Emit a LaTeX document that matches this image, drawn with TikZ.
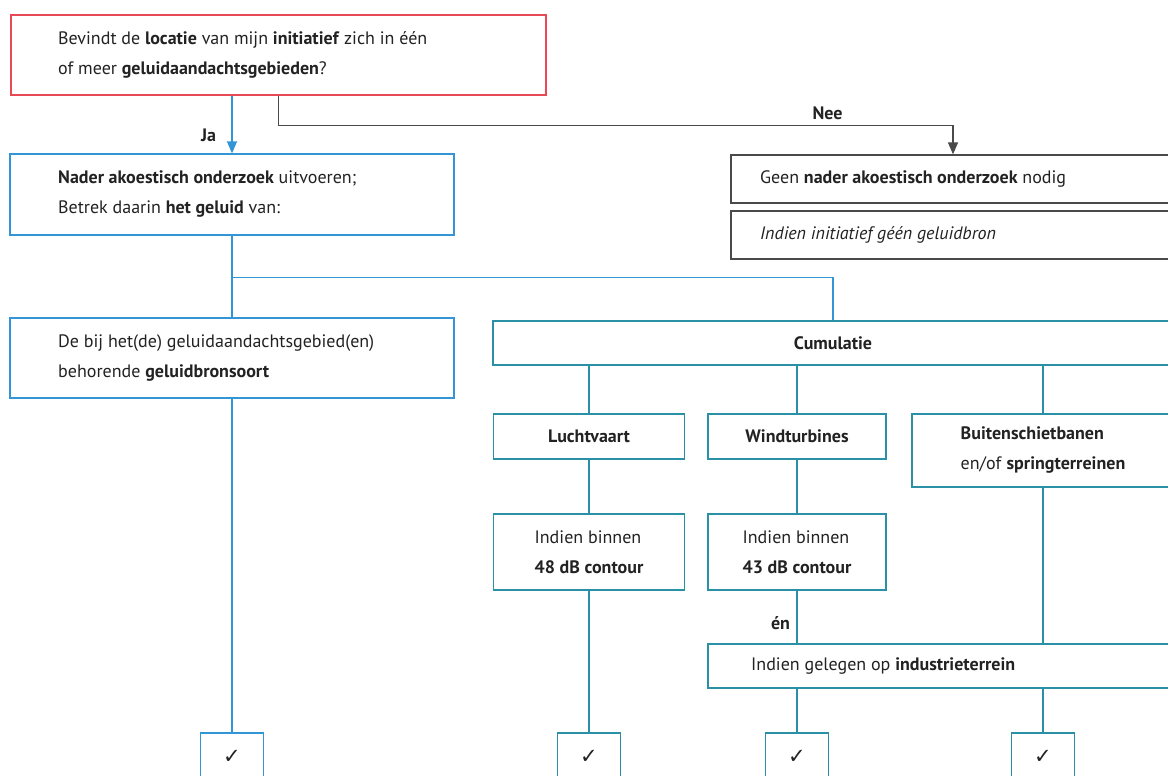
\documentclass[tikz,border=0pt]{standalone}
\usepackage{fontspec}
\setmainfont{PT Sans}
\newfontfamily\vinkfont{DejaVu Sans}
\usetikzlibrary{arrows.meta,calc}
\definecolor{rood}{HTML}{E84A55}
\definecolor{blauw}{HTML}{3296D6}
\definecolor{petrol}{HTML}{2A90A5}
\definecolor{grijs}{HTML}{4A4A4A}
\definecolor{inkt}{HTML}{222222}
\tikzset{
  kader/.style={draw, line width=1.3pt, inner sep=0pt},
  vraagkader/.style={kader, draw=rood},
  blauwkader/.style={kader, draw=blauw},
  petrolkader/.style={kader, draw=petrol, align=left, text=inkt},
  grijskader/.style={kader, draw=grijs},
  tekst/.style={inner sep=0pt, align=left, text=inkt},
  vink/.style={font=\vinkfont\fontsize{21}{21}\selectfont, text=inkt},
  blauwlijn/.style={draw=blauw, line width=1.3pt},
  petrollijn/.style={draw=petrol, line width=1.3pt},
  grijslijn/.style={draw=grijs, line width=1.3pt},
}
\begin{document}
\begin{tikzpicture}[x=1pt,y=-1pt,>={Triangle[width=10pt,length=12pt]},
    font=\fontsize{18}{30}\selectfont, line join=miter]
  \useasboundingbox (0,0) rectangle (1168,776);
  \clip (0,0) rectangle (1168,776);
  % vraag bovenaan
  \node[vraagkader, minimum width=535, minimum height=80] (vraag) at (278.5,55) {};
  \node[tekst, anchor=west] (vraagtekst) at (58,55)
    {Bevindt de \textbf{locatie} van mijn \textbf{initiatief} zich in één\\
     of meer \textbf{geluidaandachtsgebieden}?};
  % ja-tak
  \node[blauwkader, minimum width=444, minimum height=81] (onderzoek) at (232,194.5) {};
  \node[tekst, anchor=west] (onderzoektekst) at (58,194.5)
    {\textbf{Nader akoestisch onderzoek} uitvoeren;\\
     Betrek daarin \textbf{het geluid} van:};
  % nee-tak
  \node[grijskader, minimum width=444, minimum height=48] (geen) at (953,179) {};
  \node[tekst, anchor=west] (geentekst) at (760,179)
    {Geen \textbf{nader akoestisch onderzoek} nodig};
  \node[grijskader, minimum width=444, minimum height=48] (indien) at (953,235) {};
  \node[tekst, anchor=west] (indientekst) at (760,235)
    {\textit{Indien initiatief géén geluidbron}};
  % bronsoort en cumulatie
  \node[blauwkader, minimum width=444, minimum height=80] (bron) at (232,358) {};
  \node[tekst, anchor=west] (brontekst) at (58,358)
    {De bij het(de) geluidaandachtsgebied(en)\\
     behorende \textbf{geluidbronsoort}};
  \node[petrolkader, minimum width=680, minimum height=44] (cumulatie) at (833,343)
    {\textbf{Cumulatie}};
  \node[petrolkader, minimum width=191, minimum height=45] (lucht) at (589,436.5)
    {\textbf{Luchtvaart}};
  \node[petrolkader, minimum width=178, minimum height=45] (wind) at (797,436.5)
    {\textbf{Windturbines}};
  \node[petrolkader, minimum width=262, minimum height=73] (schiet) at (1043,450.5)
    {\textbf{Buitenschietbanen}\\en/of \textbf{springterreinen}};
  \node[petrolkader, minimum width=191, minimum height=76] (lucht48) at (589,552)
    {Indien binnen\\\textbf{48 dB contour}};
  \node[petrolkader, minimum width=178, minimum height=76] (wind43) at (797,552)
    {Indien binnen\\\textbf{43 dB contour}};
  \node[petrolkader, minimum width=467, minimum height=44] (industrie) at (941.5,666) {};
  \node[tekst, anchor=west] (industrietekst) at (751,666)
    {Indien gelegen op \textbf{industrieterrein}};
  % vinkjes
  \node[blauwkader, vink, minimum width=63, minimum height=48] (vink1) at (232,757) {✓};
  \node[petrolkader, vink, minimum width=63, minimum height=48] (vink2) at (589,757) {✓};
  \node[petrolkader, vink, minimum width=63, minimum height=48] (vink3) at (797,757) {✓};
  \node[petrolkader, vink, minimum width=63, minimum height=48] (vink4) at (1043,757) {✓};
  % verbindingen
  \draw[blauwlijn,->] (onderzoek.north |- vraag.south) -- (onderzoek.north)
    node[pos=0.68, left=12pt, text=inkt] {\textbf{Ja}};
  \draw[grijslijn,->] (vraag.south) -- ++(0,30) -| (geen.north)
    node[pos=0.407, above=2pt, text=inkt] {\textbf{Nee}};
  \coordinate (splits) at ($(onderzoek.south)+(0,42)$);
  \draw[blauwlijn] (onderzoek.south) -- (bron.north);
  \draw[blauwlijn] (splits) -| (cumulatie.north);
  \draw[blauwlijn] (bron.south) -- (vink1.north);
  \foreach \n in {lucht,wind,schiet}
    \draw[petrollijn] (\n.north |- cumulatie.south) -- (\n.north);
  \draw[petrollijn] (lucht.south) -- (lucht48.north);
  \draw[petrollijn] (lucht48.south) -- (vink2.north);
  \draw[petrollijn] (wind.south) -- (wind43.north);
  \draw[petrollijn] (wind43.south) -- (wind43.south |- industrie.north)
    node[pos=0.62, left=3pt, text=inkt] {\textbf{én}};
  \draw[petrollijn] (schiet.south) -- (schiet.south |- industrie.north);
  \draw[petrollijn] (vink3.north |- industrie.south) -- (vink3.north);
  \draw[petrollijn] (vink4.north |- industrie.south) -- (vink4.north);
\end{tikzpicture}
\end{document}
